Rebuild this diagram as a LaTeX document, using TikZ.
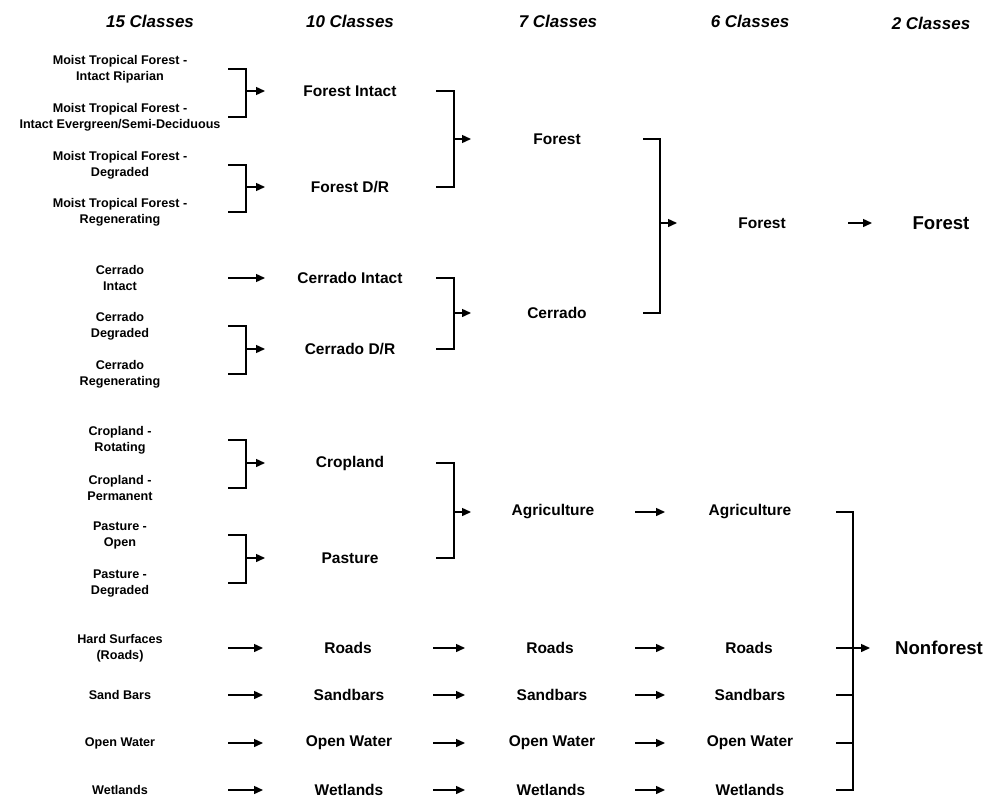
\documentclass[tikz,border=0pt]{standalone}
\usepackage{fontspec}
\setmainfont{Liberation Sans}
\usetikzlibrary{arrows.meta}
\begin{document}
\begin{tikzpicture}[x=1pt,y=-1pt,
  hdr/.style={font=\fontsize{17}{20}\selectfont\bfseries\itshape},
  lab/.style={font=\fontsize{12.6}{16}\selectfont\bfseries, align=center, inner sep=0pt},
  mid/.style={font=\fontsize{15.5}{18}\selectfont\bfseries, inner sep=0pt},
  big/.style={font=\fontsize{18.6}{22}\selectfont\bfseries, inner sep=0pt},
  ln/.style={line width=1.4pt},
  arr/.style={line width=1.4pt, -{Triangle[length=9pt,width=8pt]}}]
\useasboundingbox (0,0) rectangle (1004,811);
% headers
\node[hdr] (h1) at (150,21) {15 Classes};
\node[hdr] (h2) at (350,21) {10 Classes};
\node[hdr] (h3) at (558,21) {7 Classes};
\node[hdr] (h4) at (750,21) {6 Classes};
\node[hdr] (h5) at (931,23) {2 Classes};
% column 1
\node[lab] (a1) at (120,69) {Moist Tropical Forest -\\Intact Riparian};
\node[lab] (a2) at (120,117) {Moist Tropical Forest -\\Intact Evergreen/Semi-Deciduous};
\node[lab] (a3) at (120,165) {Moist Tropical Forest -\\Degraded};
\node[lab] (a4) at (120,212) {Moist Tropical Forest -\\Regenerating};
\node[lab] (a5) at (120,278) {Cerrado\\Intact};
\node[lab] (a6) at (120,326) {Cerrado\\Degraded};
\node[lab] (a7) at (120,374) {Cerrado\\Regenerating};
\node[lab] (a8) at (120,440) {Cropland -\\Rotating};
\node[lab] (a9) at (120,488) {Cropland -\\Permanent};
\node[lab] (a10) at (120,535) {Pasture -\\Open};
\node[lab] (a11) at (120,583) {Pasture -\\Degraded};
\node[lab] (a12) at (120,648) {Hard Surfaces\\(Roads)};
\node[lab] (a13) at (120,695) {Sand Bars};
\node[lab] (a14) at (120,743) {Open Water};
\node[lab] (a15) at (120,790) {Wetlands};
% column 2
\node[mid] (b1) at (350,91) {Forest Intact};
\node[mid] (b2) at (350,187) {Forest D/R};
\node[mid] (b3) at (350,278) {Cerrado Intact};
\node[mid] (b4) at (350,349) {Cerrado D/R};
\node[mid] (b5) at (350,463) {Cropland};
\node[mid] (b6) at (350,558) {Pasture};
\node[mid] (b7) at (348,648) {Roads};
\node[mid] (b8) at (349,695) {Sandbars};
\node[mid] (b9) at (349,743) {Open Water};
\node[mid] (b10) at (349,790) {Wetlands};
% column 3
\node[mid] (c1) at (557,139) {Forest};
\node[mid] (c2) at (557,313) {Cerrado};
\node[mid] (c3) at (553,512) {Agriculture};
\node[mid] (c4) at (550,648) {Roads};
\node[mid] (c5) at (552,695) {Sandbars};
\node[mid] (c6) at (552,743) {Open Water};
\node[mid] (c7) at (551,790) {Wetlands};
% column 4
\node[mid] (d1) at (762,223) {Forest};
\node[mid] (d2) at (750,512) {Agriculture};
\node[mid] (d3) at (749,648) {Roads};
\node[mid] (d4) at (750,695) {Sandbars};
\node[mid] (d5) at (750,743) {Open Water};
\node[mid] (d6) at (750,790) {Wetlands};
% column 5
\node[big] (e1) at (941,223) {Forest};
\node[big] (e2) at (939,648) {Nonforest};
% guide coordinates
\coordinate (xa0) at (228,0); \coordinate (xa1) at (246,0); \coordinate (xa2) at (265,0);
\coordinate (xb0) at (436,0); \coordinate (xb1) at (454,0); \coordinate (xb2) at (471,0);
\coordinate (xs0) at (433,0); \coordinate (xs1) at (465,0);
\coordinate (xc0) at (643,0); \coordinate (xc1) at (660,0); \coordinate (xc2) at (677,0);
\coordinate (xt0) at (635,0); \coordinate (xt1) at (665,0);
\coordinate (xd0) at (836,0); \coordinate (xd1) at (853,0); \coordinate (xd2) at (870,0);
\coordinate (xf0) at (848,0); \coordinate (xf1) at (872,0);
% 15 -> 10
\draw[ln] (xa0|-a1) -| (xa1|-a2) -- (xa0|-a2);
\draw[arr] (xa1|-b1) -- (xa2|-b1);
\draw[ln] (xa0|-a3) -| (xa1|-a4) -- (xa0|-a4);
\draw[arr] (xa1|-b2) -- (xa2|-b2);
\draw[arr] (xa0|-b3) -- (xa2|-b3);
\draw[ln] (xa0|-a6) -| (xa1|-a7) -- (xa0|-a7);
\draw[arr] (xa1|-b4) -- (xa2|-b4);
\draw[ln] (xa0|-a8) -| (xa1|-a9) -- (xa0|-a9);
\draw[arr] (xa1|-b5) -- (xa2|-b5);
\draw[ln] (xa0|-a10) -| (xa1|-a11) -- (xa0|-a11);
\draw[arr] (xa1|-b6) -- (xa2|-b6);
\foreach \n in {7,8,9,10}{\draw[arr] (xa0|-b\n) -- ([xshift=-2pt]xa2|-b\n);}
% 10 -> 7
\draw[ln] (xb0|-b1) -| (xb1|-b2) -- (xb0|-b2);
\draw[arr] (xb1|-c1) -- (xb2|-c1);
\draw[ln] (xb0|-b3) -| (xb1|-b4) -- (xb0|-b4);
\draw[arr] (xb1|-c2) -- (xb2|-c2);
\draw[ln] (xb0|-b5) -| (xb1|-b6) -- (xb0|-b6);
\draw[arr] (xb1|-c3) -- (xb2|-c3);
\foreach \n in {4,5,6,7}{\draw[arr] (xs0|-c\n) -- (xs1|-c\n);}
% 7 -> 6
\draw[ln] (xc0|-c1) -| (xc1|-c2) -- (xc0|-c2);
\draw[arr] (xc1|-d1) -- (xc2|-d1);
\foreach \n in {2,3,4,5,6}{\draw[arr] (xt0|-d\n) -- (xt1|-d\n);}
% 6 -> 2
\draw[arr] (xf0|-e1) -- (xf1|-e1);
\draw[ln] (xd0|-d2) -| (xd1|-d6) -- (xd0|-d6);
\draw[ln] (xd0|-d4) -- (xd1|-d4);
\draw[ln] (xd0|-d5) -- (xd1|-d5);
\draw[arr] (xd0|-e2) -- (xd2|-e2);
\end{tikzpicture}
\end{document}
